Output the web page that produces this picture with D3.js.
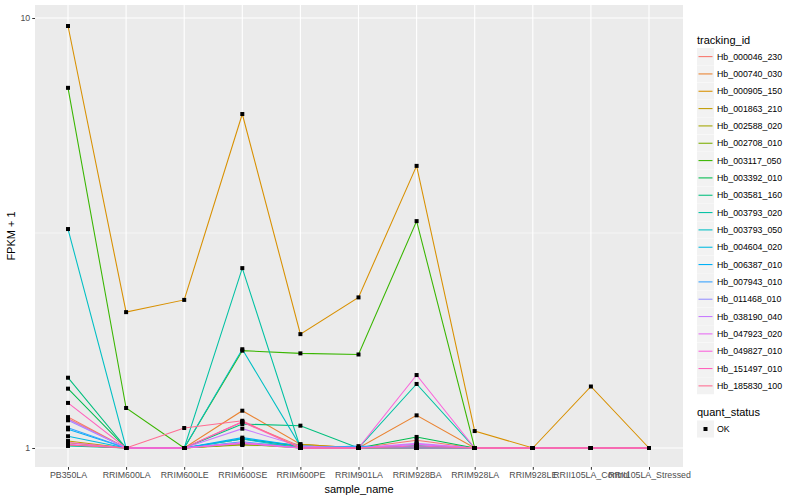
<!DOCTYPE html>
<html>
<head>
<meta charset="utf-8">
<script src="https://cdn.jsdelivr.net/npm/d3@7"></script>
<style>
  body { margin: 0; background: #fff; }
  text { font-family: "Liberation Sans", Arial, sans-serif; }
</style>
</head>
<body>
<div class="chart"></div>
<script>
// sample names on the x axis
var samples = ['PB350LA', 'RRIM600LA', 'RRIM600LE', 'RRIM600SE', 'RRIM600PE', 'RRIM901LA',
               'RRIM928BA', 'RRIM928LA', 'RRIM928LE', 'RRII105LA_Control', 'RRII105LA_Stressed'];

// gene ids (legend order)
var trackingIds = ['Hb_000046_230', 'Hb_000740_030', 'Hb_000905_150', 'Hb_001863_210', 'Hb_002588_020',
                   'Hb_002708_010', 'Hb_003117_050', 'Hb_003392_010', 'Hb_003581_160', 'Hb_003793_020',
                   'Hb_003793_050', 'Hb_004604_020', 'Hb_006387_010', 'Hb_007943_010', 'Hb_011468_010',
                   'Hb_038190_040', 'Hb_047923_020', 'Hb_049827_010', 'Hb_151497_010', 'Hb_185830_100'];

// FPKM + 1, one row per tracking id, one column per sample
var fpkm = [
  [1.18,  1, 1,     1.150, 1.010, 1,    1.042, 1,     1, 1,    1],
  [1.17,  1, 1,     1.221, 1.020, 1,    1.191, 1,     1, 1,    1],
  [9.58,  2.07, 2.21, 5.98, 1.84, 2.24, 4.53,  1.095, 1, 1.39, 1],
  [1.038, 1, 1,     1.020, 1.020, 1,    1,     1,     1, 1,    1],
  [1.029, 1, 1,     1.016, 1.010, 1,    1,     1,     1, 1,    1],
  [1.016, 1, 1,     1.020, 1,     1,    1.011, 1,     1, 1,    1],
  [6.88,  1.239, 1, 1.684, 1.66,  1.65, 3.37,  1,     1, 1,    1],
  [1.374, 1, 1,     1.050, 1.010, 1,    1.061, 1,     1, 1,    1],
  [1.457, 1, 1,     1.137, 1.127, 1,    1.011, 1,     1, 1,    1],
  [1.011, 1, 1,     2.62,  1,     1,    1.409, 1,     1, 1,    1],
  [3.23,  1, 1,     1.697, 1.010, 1,    1,     1,     1, 1,    1],
  [1.065, 1, 1,     1.049, 1,     1,    1,     1,     1, 1,    1],
  [1.105, 1, 1,     1.057, 1.010, 1,    1.011, 1,     1, 1,    1],
  [1.115, 1, 1,     1.034, 1,     1.01, 1,     1,     1, 1,    1],
  [1.160, 1, 1,     1.025, 1,     1,    1.020, 1,     1, 1,    1],
  [1.166, 1, 1,     1.109, 1.010, 1,    1.025, 1,     1, 1,    1],
  [1.020, 1, 1,     1.030, 1,     1,    1.020, 1,     1, 1,    1],
  [1.030, 1, 1,     1.025, 1,     1,    1.478, 1,     1, 1,    1],
  [1.273, 1, 1,     1.150, 1,     1,    1.011, 1,     1, 1,    1],
  [1.016, 1, 1.113, 1.157, 1,     1,    1,     1,     1, 1,    1]
];

// ggplot default hue palette for 20 levels
var colors = ['#F8766D', '#EA8331', '#D89000', '#C09B00', '#A3A500', '#7CAE00', '#39B600', '#00BB4E',
              '#00BF7D', '#00C1A3', '#00BFC4', '#00BAE0', '#00B0F6', '#35A2FF', '#9590FF', '#C77CFF',
              '#E76BF3', '#FA62DB', '#FF62BC', '#FF6C91'];

var yTicks = [1, 10];
var yMinor = [Math.sqrt(10)];

var svg = d3.select('.chart').append('svg')
            .attr('width', 800)
            .attr('height', 500);

var panel = {left: 35, right: 683, top: 5, bottom: 467};

var x = d3.scalePoint().domain(samples).range([68, 649]);
var y = d3.scaleLog().domain([1, 10]).range([448, 18]);

// panel background + grid
svg.append('rect')
   .attr('x', panel.left).attr('y', panel.top)
   .attr('width', panel.right - panel.left)
   .attr('height', panel.bottom - panel.top)
   .attr('fill', '#EBEBEB');

svg.selectAll('.minor').data(yMinor).enter().append('line')
   .attr('x1', panel.left).attr('x2', panel.right)
   .attr('y1', function(d) { return y(d); }).attr('y2', function(d) { return y(d); })
   .attr('stroke', '#fff').attr('stroke-width', 0.55);

svg.selectAll('.hgrid').data(yTicks).enter().append('line')
   .attr('x1', panel.left).attr('x2', panel.right)
   .attr('y1', function(d) { return y(d); }).attr('y2', function(d) { return y(d); })
   .attr('stroke', '#fff').attr('stroke-width', 1.1);

svg.selectAll('.vgrid').data(samples).enter().append('line')
   .attr('y1', panel.top).attr('y2', panel.bottom)
   .attr('x1', function(d) { return x(d); }).attr('x2', function(d) { return x(d); })
   .attr('stroke', '#fff').attr('stroke-width', 1.1);

// series lines
var series = trackingIds.map(function(id, i) {
  return {id: id, color: colors[i], values: fpkm[i]};
});

var line = d3.line()
             .x(function(d, i) { return x(samples[i]); })
             .y(function(d) { return y(d); });

svg.selectAll('.series').data(series).enter().append('path')
   .attr('d', function(s) { return line(s.values); })
   .attr('fill', 'none')
   .attr('stroke', function(s) { return s.color; })
   .attr('stroke-width', 1.07);

// points
var pts = [];
series.forEach(function(s) {
  s.values.forEach(function(v, i) { pts.push({x: samples[i], v: v}); });
});
svg.selectAll('.pt').data(pts).enter().append('rect')
   .attr('x', function(d) { return x(d.x) - 2; })
   .attr('y', function(d) { return y(d.v) - 2; })
   .attr('width', 4).attr('height', 4)
   .attr('fill', '#000');

// axes
var yAxis = svg.append('g')
   .attr('transform', 'translate(' + panel.left + ',0)')
   .call(d3.axisLeft(y).tickValues(yTicks).tickFormat(d3.format('d')).tickSize(2.75).tickPadding(2));
var xAxis = svg.append('g')
   .attr('transform', 'translate(0,' + panel.bottom + ')')
   .call(d3.axisBottom(x).tickSize(2.75).tickPadding(2));

[xAxis, yAxis].forEach(function(ax) {
  ax.select('.domain').remove();
  ax.selectAll('.tick line').attr('stroke', '#333');
  ax.selectAll('.tick text').attr('fill', '#4D4D4D').style('font-size', '8.8px');
});

svg.append('text')
   .attr('x', (panel.left + panel.right) / 2).attr('y', 493)
   .attr('text-anchor', 'middle').style('font-size', '11px')
   .text('sample_name');

svg.append('text')
   .attr('transform', 'translate(15,' + (panel.top + panel.bottom) / 2 + ') rotate(-90)')
   .attr('text-anchor', 'middle').style('font-size', '11px')
   .text('FPKM + 1');

// legend
var leg = svg.append('g').attr('transform', 'translate(697,0)');
leg.append('text').attr('x', 0).attr('y', 44).style('font-size', '11px').text('tracking_id');

var keys = leg.selectAll('.key').data(series).enter().append('g')
   .attr('transform', function(d, i) { return 'translate(0,' + (48 + i * 17.33) + ')'; });
keys.append('rect').attr('width', 17).attr('height', 17).attr('fill', '#F2F2F2');
keys.append('line').attr('x1', 1.5).attr('x2', 15.5).attr('y1', 8.6).attr('y2', 8.6)
    .attr('stroke', function(d) { return d.color; }).attr('stroke-width', 1.07);
keys.append('text').attr('x', 20).attr('y', 11.6).style('font-size', '8.8px')
    .text(function(d) { return d.id; });

leg.append('text').attr('x', 0).attr('y', 416).style('font-size', '11px').text('quant_status');
leg.append('rect').attr('y', 420.5).attr('width', 17).attr('height', 17).attr('fill', '#F2F2F2');
leg.append('rect').attr('x', 6.5).attr('y', 427).attr('width', 4).attr('height', 4).attr('fill', '#000');
leg.append('text').attr('x', 20).attr('y', 432.2).style('font-size', '8.8px').text('OK');
</script>
</body>
</html>
